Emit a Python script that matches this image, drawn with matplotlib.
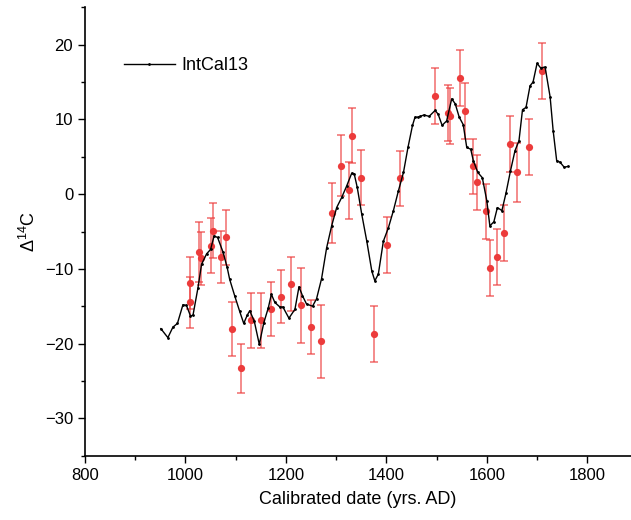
import matplotlib
matplotlib.use("Agg")
import matplotlib.pyplot as plt
from matplotlib.ticker import MultipleLocator

plt.rcParams['font.family'] = ['Liberation Sans', 'DejaVu Sans']
plt.rcParams['mathtext.fontset'] = 'custom'
plt.rcParams['mathtext.rm'] = 'Liberation Sans'
plt.rcParams['mathtext.it'] = 'Liberation Sans:italic'

# IntCal13 curve (traced)
cal_years = [951, 965, 975, 984, 995, 1002, 1010, 1015, 1025, 1032, 1042, 1050,
             1057, 1064, 1075, 1083, 1088, 1098, 1108, 1116, 1123, 1128, 1137,
             1147, 1156, 1165, 1171, 1178, 1188, 1194, 1206, 1218, 1226, 1233,
             1241, 1253, 1261, 1271, 1281, 1291, 1301, 1311, 1321, 1331, 1336,
             1342, 1351, 1361, 1371, 1377, 1384, 1394, 1404, 1414, 1424, 1434,
             1443, 1452, 1457, 1463, 1467, 1475, 1485, 1497, 1503, 1511, 1520,
             1530, 1537, 1545, 1553, 1560, 1568, 1573, 1582, 1591, 1600, 1606,
             1614, 1621, 1630, 1638, 1647, 1656, 1664, 1671, 1678, 1686, 1692,
             1700, 1707, 1716, 1726, 1732, 1739, 1746, 1754, 1761]
cal_d14c = [-18.0, -19.2, -17.8, -17.3, -14.8, -14.9, -16.3, -16.2, -12.5, -9.4,
            -8.0, -7.4, -5.6, -5.8, -7.8, -9.8, -11.4, -13.6, -15.7, -17.3,
            -16.2, -15.6, -17.0, -20.1, -17.2, -15.2, -13.4, -14.5, -15.1, -15.1,
            -16.6, -15.4, -12.4, -13.6, -14.7, -15.0, -14.0, -11.3, -7.2, -4.25,
            -1.8, -0.45, 1.1, 2.8, 2.7, 0.9, -2.7, -6.3, -10.3, -11.6, -10.7,
            -6.3, -4.5, -2.2, 0.45, 2.9, 6.25, 9.2, 10.3, 10.3, 10.4, 10.6, 10.4,
            11.2, 10.7, 9.2, 9.8, 12.75, 12.1, 10.3, 9.3, 6.25, 6.0, 4.5, 2.9,
            2.2, -0.9, -4.25, -3.7, -1.8, -2.2, 0.1, 3.1, 5.8, 7.15, 11.3, 11.6,
            14.5, 15.0, 17.5, 16.9, 17.0, 13.0, 8.5, 4.5, 4.25, 3.6, 3.7]

# Measured samples with error bars
sample_years = [1010, 1010, 1027, 1030, 1050, 1054, 1070, 1080, 1092, 1110,
                1131, 1150, 1170, 1191, 1211, 1230, 1250, 1270, 1291, 1310,
                1325, 1331, 1349, 1376, 1402, 1427, 1497, 1522, 1526, 1546,
                1556, 1572, 1581, 1598, 1607, 1621, 1635, 1646, 1660, 1684, 1709]
sample_d14c = [-14.5, -11.9, -7.7, -8.6, -6.9, -4.9, -8.4, -5.8, -18.0, -23.3,
               -16.9, -16.9, -15.4, -13.7, -12.0, -14.9, -17.8, -19.7, -2.5, 3.8,
               0.5, 7.8, 2.2, -18.7, -6.8, 2.1, 13.1, 10.8, 10.5, 15.5,
               11.1, 3.7, 1.6, -2.3, -9.9, -8.4, -5.2, 6.7, 2.9, 6.3, 16.5]
sample_err = [3.4, 3.5, 4.0, 3.5, 3.7, 3.7, 3.5, 3.7, 3.6, 3.3,
              3.7, 3.7, 3.6, 3.6, 3.6, 5.0, 3.6, 4.9, 4.0, 4.1,
              3.8, 3.7, 3.7, 3.7, 3.8, 3.7, 3.75, 3.75, 3.75, 3.75,
              3.75, 3.7, 3.7, 3.7, 3.7, 3.7, 3.7, 3.7, 3.9, 3.8, 3.75]

fig = plt.figure(figsize=(6.31, 5.2), dpi=100)
ax = fig.add_axes([85 / 631, 1 - 455.7 / 520, 546 / 631, 448.4 / 520])

red = '#ec3b3b'
ax.errorbar(sample_years, sample_d14c, yerr=sample_err, fmt='none',
            ecolor=red, elinewidth=1.1, capsize=3.2, capthick=1.1,
            alpha=0.75, zorder=2)
ax.plot(sample_years, sample_d14c, 'o', color=red, markersize=5.2,
        markeredgewidth=0, zorder=2.5)
ax.plot(cal_years, cal_d14c, color='black', lw=1.0, marker='o', markersize=1.0,
        label='IntCal13', zorder=3)

ax.set_xlim(800, 1887)
ax.set_ylim(-35, 25)
ax.xaxis.set_major_locator(MultipleLocator(200))
ax.xaxis.set_minor_locator(MultipleLocator(100))
ax.yaxis.set_major_locator(MultipleLocator(10))
ax.yaxis.set_minor_locator(MultipleLocator(5))
ax.tick_params(which='major', direction='out', length=5, width=1.0, labelsize=12)
ax.tick_params(which='minor', direction='out', length=3, width=1.0)
for s in ['top', 'right']:
    ax.spines[s].set_visible(False)
for s in ['left', 'bottom']:
    ax.spines[s].set_linewidth(1.2)

ax.set_xlabel('Calibrated date (yrs. AD)', fontsize=13, labelpad=6)
ax.set_ylabel(r'Δ$^{\mathrm{14}}$C', fontsize=13, labelpad=4)

ax.legend(loc='center left', bbox_to_anchor=((124 - 85) / 546, (455.7 - 66) / 448.4),
          frameon=False, fontsize=13, handlelength=2.8, handletextpad=0.4,
          borderpad=0, borderaxespad=0)

fig.savefig('out.png', dpi=100)
